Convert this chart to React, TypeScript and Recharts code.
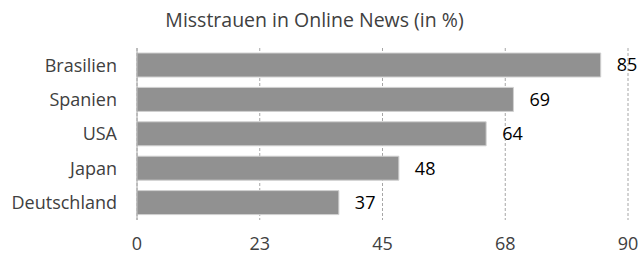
import { BarChart, Bar, XAxis, YAxis, CartesianGrid, LabelList } from 'recharts';

const countries = ['Brasilien', 'Spanien', 'USA', 'Japan', 'Deutschland'];
const distrust = [85, 69, 64, 48, 37];
const xTicks = [0, 22.5, 45, 67.5, 90];

const data = countries.map((name, i) => ({ name, value: distrust[i] }));

const FONT = '"Open Sans", sans-serif';

export default function App() {
  return (
    <div style={{ position: 'absolute', left: 0, top: 0, width: 642, height: 256, fontFamily: FONT }}>
      <div
        style={{
          position: 'absolute',
          left: 0,
          top: 10,
          width: 629,
          textAlign: 'center',
          fontSize: 19.5,
          lineHeight: '19.5px',
          color: '#404040',
        }}
      >
        Misstrauen in Online News (in %)
      </div>
      <BarChart
        width={642}
        height={256}
        data={data}
        layout="vertical"
        margin={{ top: 48, right: 14, bottom: 0, left: 0 }}
      >
        <CartesianGrid horizontal={false} stroke="#a6a6a6" strokeDasharray="3 2" />
        <XAxis
          type="number"
          domain={[0, 90]}
          ticks={xTicks}
          tickFormatter={(v) => String(Math.round(v))}
          axisLine={false}
          tickLine={false}
          tickSize={0}
          tickMargin={17}
          height={36}
          tick={{ fill: '#404040', fontSize: 18, fontFamily: FONT }}
        />
        <YAxis
          type="category"
          dataKey="name"
          width={137}
          axisLine={{ stroke: '#a6a6a6' }}
          tickLine={false}
          tickSize={0}
          tickMargin={20}
          tick={{ fill: '#404040', fontSize: 18, fontFamily: FONT }}
        />
        <Bar dataKey="value" fill="#919191" stroke="#d0d0d0" strokeWidth={1} barSize={24} isAnimationActive={false}>
          <LabelList
            dataKey="value"
            position="right"
            offset={16}
            fill="#000000"
            fontSize={18}
            fontFamily={FONT}
          />
        </Bar>
      </BarChart>
    </div>
  );
}
